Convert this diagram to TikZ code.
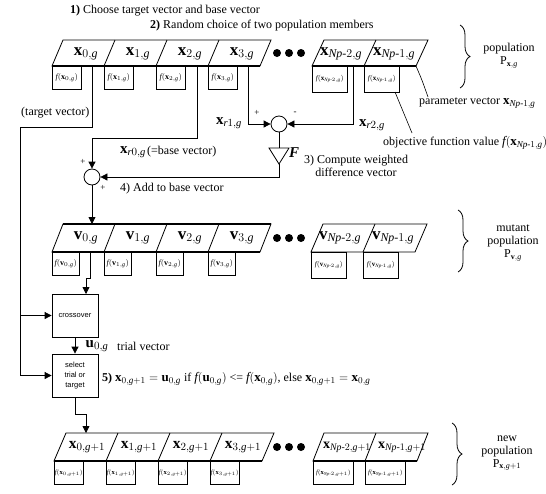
\documentclass[tikz,border=0pt]{standalone}
\usepackage{amsmath}
\usepackage{fontspec}
\setmainfont{Liberation Serif}
\setsansfont{Liberation Sans}
\usetikzlibrary{arrows.meta,decorations.pathreplacing,calc}
\newcommand\bv[2]{\mathbf{#1}_{#2}}
\newcommand\ig{\mathit{g}}
\newcommand\hy{\text{-}}
\begin{document}
\begin{tikzpicture}[x=1pt,y=-1pt,
 ln/.style={line width=0.8pt},
 arr/.style={line width=0.8pt,-{Triangle[length=7pt,width=7pt]}},
 thickedge/.style={line width=2pt},
 fbox/.style={draw,line width=0.7pt,anchor=north west,minimum width=29pt,minimum height=23pt,inner sep=0pt,font=\fontsize{8}{9}\selectfont},
 fwide/.style={fbox,minimum width=35pt,minimum height=26pt,font=\fontsize{7}{8}\selectfont},
 fsmall/.style={fbox,font=\fontsize{6.5}{7}\selectfont},
 fsmallw/.style={fbox,minimum width=40pt,font=\fontsize{6.5}{7}\selectfont},
 vlab/.style={font=\fontsize{17}{20}\selectfont,inner sep=0pt},
 nlab/.style={font=\fontsize{15.5}{18}\selectfont,inner sep=0pt},
 nlabw/.style={font=\fontsize{14}{16}\selectfont,inner sep=0pt},
 slab/.style={font=\fontsize{15}{18}\selectfont,inner sep=0pt},
 txt/.style={font=\fontsize{12}{13}\selectfont,inner sep=0pt},
 sym/.style={font=\fontsize{9}{10}\selectfont,inner sep=0pt},
 opbox/.style={draw,line width=0.8pt,minimum width=46pt,minimum height=43pt,inner sep=1pt,align=center,font=\sffamily\fontsize{7.5}{10}\selectfont},
 sumnode/.style={draw,circle,line width=0.8pt,minimum size=16pt,inner sep=0pt},
 dotnode/.style={fill,circle,minimum size=8pt,inner sep=0pt},
 brc/.style={decorate,decoration={brace,amplitude=10pt},line width=0.8pt},
 side/.style={txt,align=center}]
\useasboundingbox (0,0) rectangle (546,493);

% ---------- row 1: population ----------
\draw[ln] (52,66) -- (63,40) -- (271,40) -- (260,66) -- cycle;
\foreach \i in {1,2,3} \draw[ln] ({52+52*\i},66) -- ({63+52*\i},40);
\draw[thickedge] (52,66) -- (260,66);
\foreach \i in {0,1,2,3} {
  \node[vlab] (x\i) at ({86+52*\i},54) {$\bv{x}{\i,\ig}$};
  \node[fbox] (fx\i) at ({52+52*\i},66) {$\mathit{f}(\bv{x}{\i,\ig})$};
}
\draw[ln] (312,66) -- (324,40) -- (428,40) -- (416,66) -- cycle;
\draw[ln] (364,66) -- (376,40);
\draw[thickedge] (312,66) -- (416,66);
\node[vlab] (xA) at (341,54) {$\bv{x}{\mathit{Np}\hy2,\ig}$};
\node[vlab] (xB) at (394,54) {$\bv{x}{\mathit{Np}\hy1,\ig}$};
\node[fwide] (fxA) at (312,66) {$\mathit{f}(\bv{x}{\mathit{Np}\hy2,\ig})$};
\node[fwide] (fxB) at (364,66) {$\mathit{f}(\bv{x}{\mathit{Np}\hy1,\ig})$};
\foreach \k in {0,1,2} \node[dotnode] (da\k) at ({277+12*\k},53) {};

% ---------- row 2: mutant population ----------
\draw[ln] (52,252) -- (63,224) -- (271,224) -- (260,252) -- cycle;
\foreach \i in {1,2,3} \draw[ln] ({52+52*\i},252) -- ({63+52*\i},224);
\draw[line width=1.6pt] (63,224) -- (271,224);
\draw[line width=1.4pt] (52,252) -- (260,252);
\foreach \i in {0,1,2,3} {
  \node[vlab] (v\i) at ({86+52*\i},238) {$\bv{v}{\i,\ig}$};
  \node[fbox,minimum width=27pt] (fv\i) at ({52+52*\i},252) {$\mathit{f}(\bv{v}{\i,\ig})$};
}
\draw[ln] (311,252) -- (323,224) -- (427,224) -- (415,252) -- cycle;
\draw[ln] (363,252) -- (375,224);
\node[vlab] (vA) at (340,238) {$\bv{v}{\mathit{Np}\hy2,\ig}$};
\node[vlab] (vB) at (393,238) {$\bv{v}{\mathit{Np}\hy1,\ig}$};
\node[fwide] (fvA) at (311,252) {$\mathit{f}(\bv{v}{\mathit{Np}\hy2,\ig})$};
\node[fwide] (fvB) at (363,252) {$\mathit{f}(\bv{v}{\mathit{Np}\hy1,\ig})$};
\foreach \k in {0,1,2} \node[dotnode] (db\k) at ({277+12*\k},238) {};

% ---------- row 3: new population ----------
\draw[ln] (54,461) -- (66,433) -- (274,433) -- (262,461) -- cycle;
\foreach \i in {1,2,3} \draw[ln] ({54+52*\i},461) -- ({66+52*\i},433);
\draw[thickedge] (54,461) -- (262,461);
\foreach \i in {0,1,2,3} {
  \node[nlab] (n\i) at ({87+52*\i},447) {$\bv{x}{\i,\ig+1}$};
  \node[fsmall] (fn\i) at ({54+52*\i},461) {$\mathit{f}(\bv{x}{\i,\ig+1})$};
}
\draw[ln] (313,461) -- (324,433) -- (428,433) -- (417,461) -- cycle;
\draw[ln] (365,461) -- (376,433);
\draw[thickedge] (313,461) -- (417,461);
\node[nlabw] (nA) at (347,447) {$\bv{x}{\mathit{Np}\hy2,\ig+1}$};
\node[nlabw] (nB) at (402,447) {$\bv{x}{\mathit{Np}\hy1,\ig+1}$};
\node[fsmallw] (fnA) at (313,461) {$\mathit{f}(\bv{x}{\mathit{Np}\hy2,\ig+1})$};
\node[fsmallw] (fnB) at (365,461) {$\mathit{f}(\bv{x}{\mathit{Np}\hy1,\ig+1})$};
\foreach \k in {0,1,2} \node[dotnode] (dc\k) at ({277+12*\k},447) {};

% ---------- operators ----------
\node[sumnode] (diff) at (279,124) {};
\node[sumnode] (add) at (92,177) {};
\coordinate (ftop) at (279,148);
\coordinate (fapex) at (279,164);
\draw[ln] (269,148) -- (289,148) -- (fapex) -- cycle;
\node[opbox] (cross) at (75,315.5) {crossover};
\node[opbox] (sel) at (75,375.5) {select\\trial or\\target};

% ---------- connection points ----------
\coordinate (c0b) at (92,66);
\coordinate (c2b) at (197,66);
\coordinate (c3b) at (248,66);
\coordinate (cAb) at (353,66);
\coordinate (tl) at (20,127);
\coordinate (bl) at (92,138);
\coordinate (v0t) at (92,224);
\coordinate (v0b) at (90,252);
\coordinate (cin) at (86,294);
\coordinate (n0t) at (86,433);

% ---------- connectors ----------
\draw[arr] (c0b) |- (tl) |- (sel.west);
\draw[arr] (cross.west -| tl) -- (cross.west);
\draw[arr] (c2b) |- (bl) -- (add.north);
\draw[arr] (c3b) |- (diff.west);
\draw[arr] (cAb) |- (diff.east);
\draw[ln] (diff.south) -- (ftop);
\draw[arr] (fapex) |- (add.east);
\draw[arr] (add.south) -- (v0t);
\draw[arr] (v0b) -- ++(0,26) -| (cin);
\draw[arr] (cross.south) -- (sel.north);
\draw[arr] (sel.south) -- ++(0,17) -| (n0t);

% leader lines
\coordinate (pvc) at (416,66);
\coordinate (pve) at (428,97);
\coordinate (ofc) at (395,92);
\coordinate (ofe) at (412,133);
\draw[line width=0.6pt] (pvc) .. controls (422,80) .. (pve);
\draw[line width=0.6pt] (ofc) -- (ofe);

% ---------- braces ----------
\draw[brc] (460,25) -- (460,88);
\draw[brc] (458,210) -- (458,272);
\draw[brc] (452,423) -- (452,485);
\node[side] (lp1) at (509,56) {population\\$\mathrm{P}_{\mathbf{x},\ig}$};
\node[side] (lp2) at (513,243) {mutant\\population\\$\mathrm{P}_{\mathbf{v},\ig}$};
\node[side] (lp3) at (507,453) {new\\population\\$\mathrm{P}_{\mathbf{x},\ig+1}$};

% ---------- texts ----------
\node[txt,anchor=west] (s1) at (70,11) {\textbf{1)} Choose target vector and base vector};
\node[txt,anchor=west] (s2) at (150,26) {\textbf{2)} Random choice of two population members};
\node[txt,anchor=west] (tv) at (21,113) {(target vector)};
\node[slab] (r1) at (229,123) {$\bv{x}{\mathit{r}1,\ig}$};
\node[slab] (r2) at (372,125) {$\bv{x}{\mathit{r}2,\ig}$};
\node[sym] (pl1) at (257,113) {+};
\node[sym] (mi1) at (295,113) {-};
\node[slab] (Fl) at (294,153) {\textbf{\textit{F}}};
\node[txt,align=center] (s3) at (356,166) {3) Compute weighted\\difference vector};
\node[slab] (r0) at (133,152) {$\bv{x}{\mathit{r}0,\ig}$};
\node[txt,anchor=west] (bv) at (147,152) {(=base vector)};
\node[sym] (pl2) at (83,162) {+};
\node[sym] (pl3) at (103,188) {+};
\node[txt,anchor=west] (s4) at (120,189) {4) Add to base vector};
\node[txt,anchor=west] (pv) at (419,103) {parameter vector {\fontsize{13}{14}\selectfont$\bv{x}{\mathit{Np}\hy1,\ig}$}};
\node[txt,anchor=west] (of) at (383,143) {objective function value {\fontsize{13}{14}\selectfont$\mathit{f}(\bv{x}{\mathit{Np}\hy1,\ig})$}};
\node[slab] (u0) at (97,346) {$\bv{u}{0,\ig}$};
\node[txt,anchor=west] (tr) at (117,346) {trial vector};
\node[txt,anchor=west] (s5) at (102,379) {\textbf{5)} {\fontsize{13}{14}\selectfont$\bv{x}{0,\ig+1}=\bv{u}{0,\ig}$} if {\fontsize{13}{14}\selectfont$\mathit{f}(\bv{u}{0,\ig})$} <= {\fontsize{13}{14}\selectfont$\mathit{f}(\bv{x}{0,\ig})$}, else {\fontsize{13}{14}\selectfont$\bv{x}{0,\ig+1}=\bv{x}{0,\ig}$}};
\end{tikzpicture}
\end{document}
